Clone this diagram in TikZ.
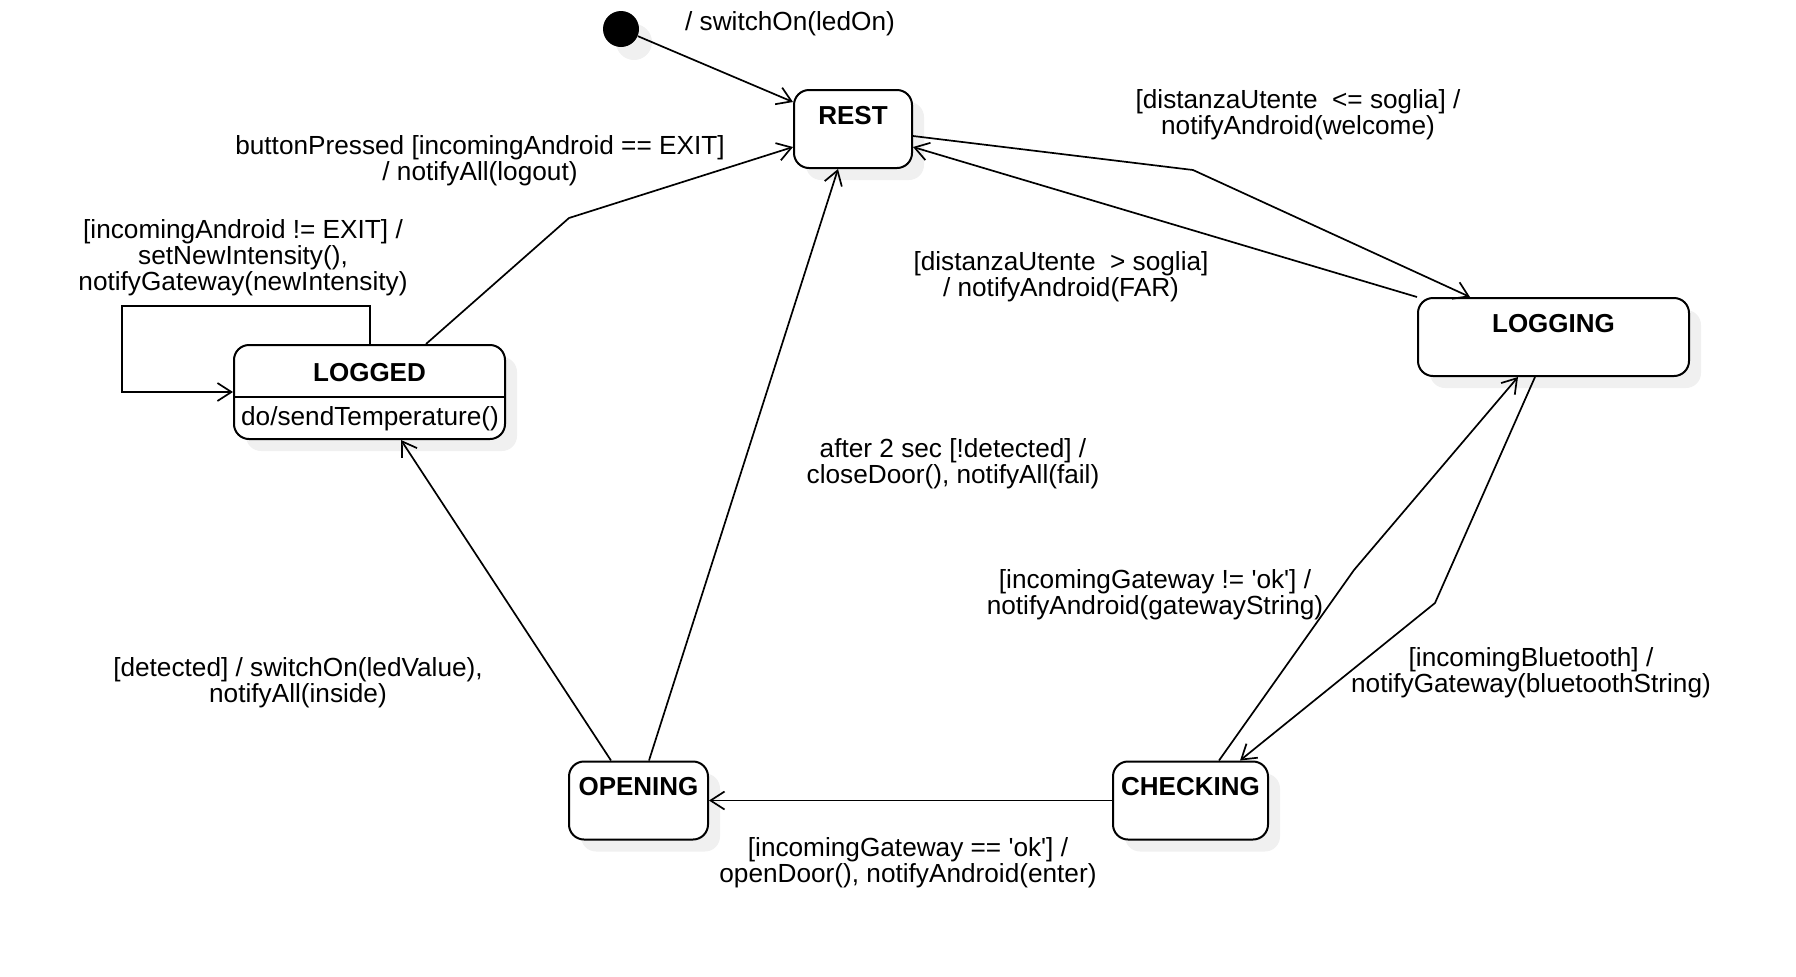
\documentclass[tikz,border=0pt]{standalone}
\usepackage{fontspec}
\setmainfont{Liberation Sans}
\usetikzlibrary{arrows.meta,shadows}
\tikzset{
	state/.style={draw, line width=1pt, rounded corners=7.5pt, fill=white, inner sep=0pt,
		text height=17pt, text depth=22pt, font=\fontsize{13}{13}\selectfont\bfseries,
		drop shadow={shadow xshift=6pt, shadow yshift=-6pt, fill=black!6, opacity=1}},
	initial/.style={circle, fill=black, inner sep=0pt, minimum size=18pt,
		drop shadow={shadow xshift=6.5pt, shadow yshift=-6.5pt, fill=black!6, opacity=1}},
	trans/.style={line width=0.85pt, -{Straight Barb[length=7pt,width=9pt,line width=0.85pt]}},
	lbl/.style={align=center, inner sep=0pt, font=\fontsize{13.1}{12.9}\selectfont}
}

\begin{document}
\begin{tikzpicture}[x=0.5pt, y=-0.5pt]
		%%%%% START %%%%%
		\useasboundingbox (0,0) rectangle (1796,976);
		
		% states
		\node[initial] (init) at (621,29) {};
		\node[state, minimum width=59pt] (rest) at (853,129) {REST};
		\node[state, minimum width=135.5pt] (logging) at (1553.5,337) {LOGGING};
		\node[state, minimum width=69.5pt] (opening) at (638.5,800.5) {OPENING};
		\node[state, minimum width=77.5pt] (checking) at (1190.5,800.5) {CHECKING};
		\node[state, minimum width=135.5pt, text height=18pt, text depth=29pt] (logged) at (369.5,392) {LOGGED};
		\draw[line width=1pt] (logged.west |- 0,397) -- (logged.east |- 0,397);
		\node[lbl] (loggeddo) at (370,419) {do/sendTemperature()};
		
		% transitions
		\draw[trans] (init) -- (rest.west |- 0,102);
		\draw[trans] (logged.north -| 426,0) -- (569,218) -- (rest.west |- 0,147);
		\draw[trans] (logged.north -| 370,0) |- (122,306) |- (logged.west |- 0,392);
		\draw[trans] (rest.east |- 0,136) -- (1193,170) -- (logging.north -| 1470,0);
		\draw[trans] (logging.north west) -- (rest.east |- 0,147);
		\draw[trans] (opening.north -| 649,0) -- (rest.south -| 838,0);
		\draw[trans] (opening.north -| 611,0) -- (logged.south -| 401,0);
		\draw[trans] (checking.north -| 1219,0) -- (1354,570) -- (logging.south -| 1518,0);
		\draw[trans] (logging.south -| 1535,0) -- (1435,603) -- (checking.north -| 1240,0);
		\draw[trans] (checking.west) -- (opening.east);
		
		% labels
		\node[lbl] (initlbl) at (790,24) {/ switchOn(ledOn)};
		\node[lbl] (exitlbl) at (480,161) {buttonPressed [incomingAndroid == EXIT]\\/ notifyAll(logout)};
		\node[lbl] (looplbl) at (243,258) {[incomingAndroid != EXIT] /\\setNewIntensity(),\\notifyGateway(newIntensity)};
		\node[lbl] (welcomelbl) at (1298,115) {[distanzaUtente~ <= soglia] /\\notifyAndroid(welcome)};
		\node[lbl] (farlbl) at (1061,277) {[distanzaUtente~ > soglia]\\/ notifyAndroid(FAR)};
		\node[lbl] (faillbl) at (953,464) {after 2 sec [!detected] /\\closeDoor(), notifyAll(fail)};
		\node[lbl] (insidelbl) at (298,683) {[detected] / switchOn(ledValue),\\notifyAll(inside)};
		\node[lbl] (gwlbl) at (1155,595) {[incomingGateway != \textquotesingle ok\textquotesingle] /\\notifyAndroid(gatewayString)};
		\node[lbl] (btlbl) at (1531,673) {[incomingBluetooth] /\\notifyGateway(bluetoothString)};
		\node[lbl] (enterlbl) at (908,863) {[incomingGateway == \textquotesingle ok\textquotesingle] /\\openDoor(), notifyAndroid(enter)};
		
		%%%%% END %%%%%
\end{tikzpicture}
\end{document}
